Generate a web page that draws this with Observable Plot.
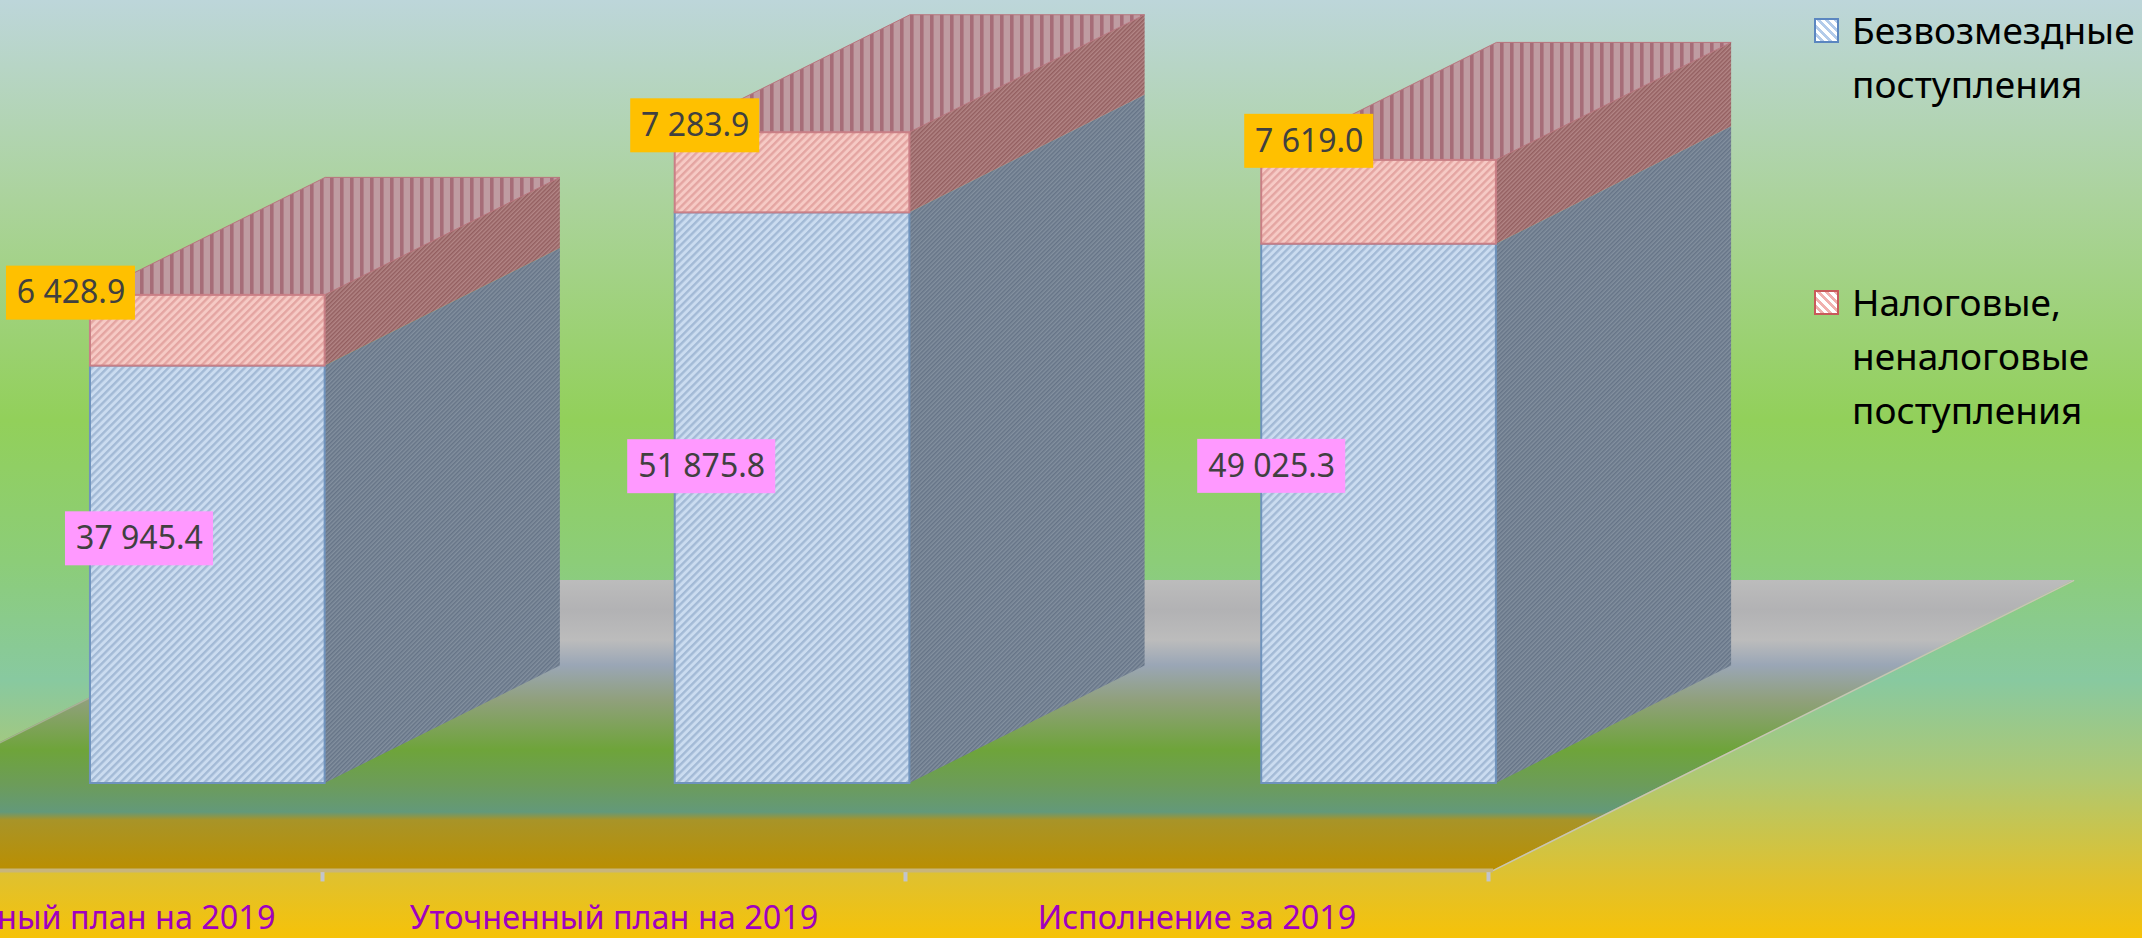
<!DOCTYPE html>
<html lang="ru">
<head>
<meta charset="utf-8">
<script src="https://cdn.jsdelivr.net/npm/d3@7"></script>
<script src="https://cdn.jsdelivr.net/npm/@observablehq/plot@0.6"></script>
<style>
  html, body { margin: 0; padding: 0; width: 2142px; height: 938px; overflow: hidden; background: #92d05a; }
  #stage { position: relative; width: 2142px; height: 938px; overflow: hidden; }
  #stage svg { display: block; }
  .lg-text { position: absolute; left: 1852px; font: 37px/54px "Noto Sans", sans-serif; color: #000; white-space: pre; }
  .lg-swatch { position: absolute; left: 1814px; width: 21px; height: 21px; border-width: 2px; border-style: solid; }
</style>
</head>
<body>
<div id="stage"></div>
<script>
// ---- data ----
const categories = ["Первоначальный план на 2019", "Уточненный план на 2019", "Исполнение за 2019"];
const grants = [37945.4, 51875.8, 49025.3];
const taxes = [6428.9, 7283.9, 7619.0];
const seriesNames = ["Безвозмездные\nпоступления", "Налоговые,\nненалоговые\nпоступления"];

// ---- layout of the oblique projection, in scale units ----
const barLeft = [0.602, 1.605, 2.611];
const barWidth = 0.4025;
const depthX = 0.4035;
const depthY = 10682;
const floorFront = -7900;
const floorBack = 18450;
const floorDepthX = 0.995;
const floorShift = 0.0086;
const pxPerX = 583, pxPerY = 0.011;   // pixels per scale unit
const W = 2142, H = 938, axisGap = 45;

// position of value labels, shifted by hand in pixels from the segment's midpoint
const taxShift = [[-19.5, -37.6], [20, -47], [47.5, -61]];
const grantShift = [[49, -36], [26.5, -31.5], [10, -47.5]];

// ---- derived tables ----
const fmt = d3.formatLocale({decimal: ".", thousands: " ", grouping: [3], currency: ["", ""]}).format(",.1f");
const segments = categories.flatMap((c, i) => [
  {i, series: "grants", y0: 0, y1: grants[i], value: grants[i], shift: grantShift[i]},
  {i, series: "taxes", y0: grants[i], y1: grants[i] + taxes[i], value: taxes[i], shift: taxShift[i]}
]);
const sideFace = (s) => [
  {z: s.i, x: barLeft[s.i] + barWidth, y1: s.y0, y2: s.y1},
  {z: s.i, x: barLeft[s.i] + barWidth + depthX, y1: s.y0 + depthY, y2: s.y1 + depthY}
];
const topFace = (i) => {
  const t = grants[i] + taxes[i];
  return [
    {z: i, y: t, x1: barLeft[i], x2: barLeft[i] + barWidth},
    {z: i, y: t + depthY, x1: barLeft[i] + depthX, x2: barLeft[i] + barWidth + depthX}
  ];
};
const floor = [
  {y: floorFront, x1: floorShift, x2: 3 + floorShift},
  {y: floorBack, x1: floorShift + floorDepthX, x2: 3 + floorShift + floorDepthX}
];
const labels = segments.map((s) => {
  const wide = s.series === "grants";
  const cx = barLeft[s.i] + s.shift[0] / pxPerX;
  const cy = (s.y0 + s.y1) / 2 - s.shift[1] / pxPerY;
  const hw = (wide ? 74 : 64.5) / pxPerX, hh = 27 / pxPerY;
  return {cx, cy, x1: cx - hw, x2: cx + hw, y1: cy - hh, y2: cy + hh,
          text: fmt(s.value), fill: wide ? "#ff99ff" : "#ffc000"};
});

// ---- SVG paint servers ----
function stripes(id, size, angle, base, line, lineW) {
  return `<pattern id="${id}" width="${size}" height="${size}" patternUnits="userSpaceOnUse" patternTransform="rotate(${angle})">
    <rect width="${size}" height="${size}" fill="${base}"/><rect width="${lineW}" height="${size}" fill="${line}"/></pattern>`;
}
function defs() {
  const g = document.createElementNS("http://www.w3.org/2000/svg", "g");
  const y0 = 580, y1 = 870;
  const stops = [[580,"#bcbcbc"],[610,"#b2b2b4"],[640,"#bcbcbc"],[665,"#9aa6b6"],[700,"#90a07c"],[750,"#6ea43a"],
                 [785,"#6c9c5a"],[812,"#63997a"],[820,"#a89428"],[866,"#b98f04"],[870,"#b98f04"]];
  g.innerHTML = `<defs>
    ${stripes("blueFront", 5.4, 45, "#cbdcf0", "#a3bad6", 2.4)}
    ${stripes("pinkFront", 5.4, 45, "#f6cac5", "#e4a5a2", 2.4)}
    ${stripes("blueSide", 3, 45, "#83909f", "#667487", 1.5)}
    ${stripes("pinkSide", 3, 45, "#b38686", "#935f60", 1.5)}
    ${stripes("pinkTop", 10, 0, "#bf9ca2", "#a66d78", 3.6)}
    <linearGradient id="floorFill" gradientUnits="userSpaceOnUse" x1="0" x2="0" y1="${y0}" y2="${y1}">
      ${stops.map(([y, c]) => `<stop offset="${(y - y0) / (y1 - y0)}" stop-color="${c}"/>`).join("")}
    </linearGradient></defs>`;
  return g;
}

// ---- chart ----
const xDomain = [261 / pxPerX, (W + 261) / pxPerX];
const yDomain = [(783 - (H - axisGap)) / pxPerY, 783 / pxPerY];
const grantSeg = segments.filter((s) => s.series === "grants");
const taxSeg = segments.filter((s) => s.series === "taxes");

const chart = Plot.plot({
  width: W, height: H,
  marginTop: 0, marginRight: 0, marginLeft: 0, marginBottom: axisGap,
  x: {domain: xDomain, range: [0, W]},
  y: {domain: yDomain, range: [H - axisGap, 0], axis: null},
  style: {
    background: "linear-gradient(180deg,#bdd6da 0px,#abd39c 200px,#92d05a 420px,#8ccd78 560px,#88c9a0 680px,#b0c870 780px,#e1c12c 880px,#f6c208 938px)",
    overflow: "hidden"
  },
  marks: [
    defs,
    Plot.areaX(floor, {y: "y", x1: "x1", x2: "x2", fill: "url(#floorFill)", curve: "linear"}),
    Plot.line(floor, {x: "x2", y: "y", stroke: "#c9c4b4", strokeWidth: 1.5}),
    Plot.line(floor, {x: "x1", y: "y", stroke: "#b6b6a8", strokeWidth: 1.5, strokeOpacity: 0.7}),
    Plot.ruleY([floorFront], {x1: floorShift, x2: 3 + floorShift, stroke: "#c8b57a", strokeWidth: 4}),
    Plot.ruleX([1, 2, 3], {y1: floorFront - 200, y2: floorFront - 1050, stroke: "#c2c4cc", strokeWidth: 4}),

    // back faces of the columns
    Plot.areaY(grantSeg.flatMap(sideFace), {x: "x", y1: "y1", y2: "y2", z: "z", fill: "url(#blueSide)", curve: "linear"}),
    Plot.areaY(taxSeg.flatMap(sideFace), {x: "x", y1: "y1", y2: "y2", z: "z", fill: "url(#pinkSide)", curve: "linear"}),
    Plot.areaX(categories.flatMap((c, i) => topFace(i)), {y: "y", x1: "x1", x2: "x2", z: "z", fill: "url(#pinkTop)", stroke: "#b8737c", strokeWidth: 1, curve: "linear"}),

    // front faces
    Plot.rect(grantSeg, {x1: (s) => barLeft[s.i], x2: (s) => barLeft[s.i] + barWidth, y1: "y0", y2: "y1", fill: "url(#blueFront)", stroke: "#6f93bd", strokeWidth: 2}),
    Plot.rect(taxSeg, {x1: (s) => barLeft[s.i], x2: (s) => barLeft[s.i] + barWidth, y1: "y0", y2: "y1", fill: "url(#pinkFront)", stroke: "#c97f86", strokeWidth: 2}),

    // value labels
    Plot.rect(labels, {x1: "x1", x2: "x2", y1: "y1", y2: "y2", fill: "fill"}),
    Plot.text(labels, {x: "cx", y: "cy", text: "text", fontSize: 32, fill: "#404040", fontFamily: "Noto Sans"}),

    // category axis
    Plot.axisX({
      ticks: [0.5, 1.5, 2.5],
      tickFormat: (d) => categories[Math.floor(d)],
      tickSize: 0, tickPadding: 12, label: null,
      fontSize: 32.4, fontFamily: "Noto Sans", color: "#a000c0"
    })
  ]
});
document.getElementById("stage").appendChild(chart);

// ---- legend ----
const legendStage = document.getElementById("stage");
[[18, 3, "#5b86c0", "#b3cbea", seriesNames[0]], [290, 275, "#c85a5a", "#f0b0ae", seriesNames[1]]].forEach(([sy, ty, border, stripe, name]) => {
  const sw = document.createElement("div");
  sw.className = "lg-swatch";
  sw.style.top = sy + "px";
  sw.style.borderColor = border;
  sw.style.background = `repeating-linear-gradient(45deg,#fff 0 3px,${stripe} 3px 6px)`;
  legendStage.appendChild(sw);
  const t = document.createElement("div");
  t.className = "lg-text";
  t.style.top = ty + "px";
  t.textContent = name;
  legendStage.appendChild(t);
});
</script>
</body>
</html>
